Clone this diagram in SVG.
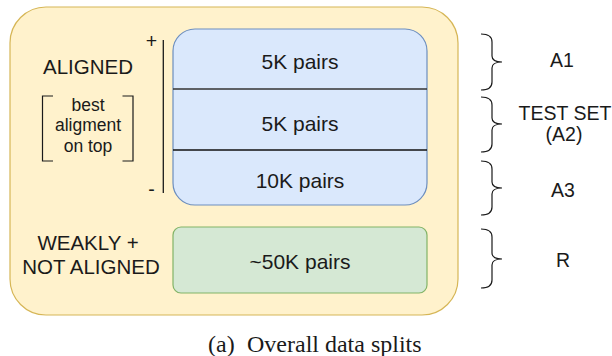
<svg xmlns="http://www.w3.org/2000/svg" width="612" height="356" viewBox="0 0 612 356">
<style>
text{font-family:"Liberation Sans",Arial,sans-serif;fill:#1a1a1a;text-anchor:middle}
.lf{font-size:20.5px}
.pr{font-size:21px}
.rt{font-size:19.5px}
.sm{font-size:17.5px}
.cap{font-family:"Liberation Serif","Times New Roman",serif;font-size:24px;text-anchor:start}
.ln{stroke:#1a1a1a;stroke-width:1.3;fill:none}
.br{stroke:#1a1a1a;stroke-width:1.2;fill:none}
</style>
<rect width="612" height="356" fill="#ffffff"/>
<g id="outer">
<rect x="10" y="7" width="448" height="308" rx="36" ry="36" fill="#fff2cc" stroke="#d6b656" stroke-width="1.2"/>
</g>
<g id="aligned-label">
<text class="lf" x="88" y="74">ALIGNED</text>
<path class="br" d="M53,96 H42.5 V161 H53 M122.5,96 H133 V161 H122.5"/>
<text class="sm" x="88" y="110.5">best</text>
<text class="sm" x="88" y="131">aligment</text>
<text class="sm" x="88" y="151.5">on top</text>
</g>
<g id="axis">
<line class="ln" x1="163.3" y1="40" x2="163.3" y2="193"/>
<text class="rt" x="151.5" y="48">+</text>
<text class="rt" x="151.5" y="196">-</text>
</g>
<g id="aligned-box">
<rect x="173" y="29" width="254" height="176" rx="22" ry="22" fill="#dae8fc" stroke="#6c8ebf" stroke-width="1.2"/>
<line x1="173" y1="89" x2="427" y2="89" stroke="#333" stroke-width="1.3"/>
<line x1="173" y1="150" x2="427" y2="150" stroke="#111" stroke-width="1.3"/>
<text class="pr" x="300" y="69">5K pairs</text>
<text class="pr" x="300" y="131">5K pairs</text>
<text class="pr" x="300" y="188">10K pairs</text>
</g>
<g id="weak-label">
<text class="lf" x="88" y="250">WEAKLY +</text>
<text class="lf" x="91" y="274">NOT ALIGNED</text>
</g>
<g id="weak-box">
<rect x="173" y="227" width="254" height="66" rx="8" ry="8" fill="#d5e8d4" stroke="#82b366" stroke-width="1.2"/>
<text class="pr" x="300" y="269">~50K pairs</text>
</g>
<g id="braces">
<path class="br" d="M481,34 Q492,34 492,42 V56 Q492,62 502,62 Q492,62 492,68 V82 Q492,90 481,90"/>
<path class="br" d="M481,97 Q492,97 492,105 V118 Q492,124 502,124 Q492,124 492,130 V144 Q492,152 481,152"/>
<path class="br" d="M481,161 Q492,161 492,169 V182 Q492,188 502,188 Q492,188 492,194 V207 Q492,215 481,215"/>
<path class="br" d="M481,229 Q492,229 492,237 V253 Q492,259 502,259 Q492,259 492,265 V280 Q492,288 481,288"/>
</g>
<g id="split-labels">
<text class="rt" x="562" y="67">A1</text>
<text class="rt" x="565" y="120">TEST SET</text>
<text class="rt" x="564" y="140.5">(A2)</text>
<text class="rt" x="563" y="197">A3</text>
<text class="rt" x="563" y="267">R</text>
</g>
<g id="caption">
<text class="cap" x="208" y="352">(a)</text>
<text class="cap" x="247" y="352">Overall data splits</text>
</g>
</svg>
